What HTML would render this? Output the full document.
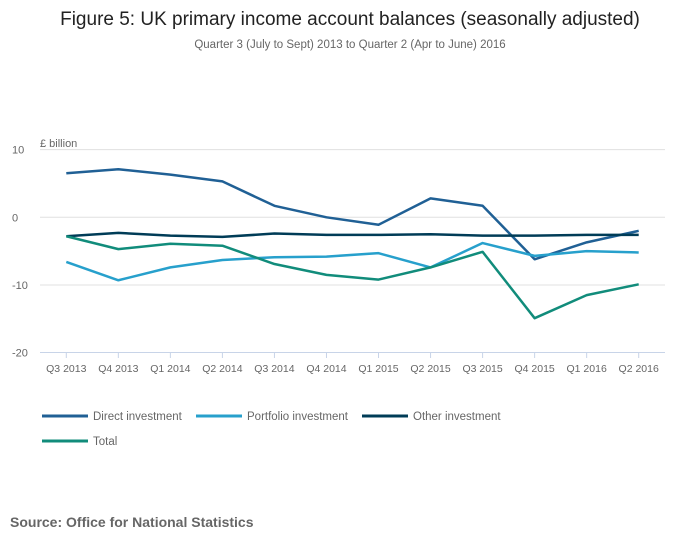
<!DOCTYPE html>
<html><head><meta charset="utf-8"><style>
body{margin:0;background:#fff;width:700px;height:549px;overflow:hidden;font-family:"Liberation Sans",sans-serif}
svg text{font-family:"Liberation Sans",sans-serif}
</style></head><body>
<svg width="700" height="549">
<text x="350" y="25" text-anchor="middle" font-size="19" fill="#222">Figure 5: UK primary income account balances (seasonally adjusted)</text>
<text x="350" y="48" text-anchor="middle" font-size="11.5" fill="#666">Quarter 3 (July to Sept) 2013 to Quarter 2 (Apr to June) 2016</text>
<text x="40" y="147" font-size="11" fill="#666">£ billion</text>
<g id="grid"></g><g id="xaxis"></g><g id="series"></g><g id="legend"></g>
<text x="10" y="527" font-size="14" font-weight="bold" fill="#666">Source: Office for National Statistics</text>
</svg>
<script>
const categories=["Q3 2013","Q4 2013","Q1 2014","Q2 2014","Q3 2014","Q4 2014","Q1 2015","Q2 2015","Q3 2015","Q4 2015","Q1 2016","Q2 2016"];
const yTicks=[10,0,-10,-20];
const direct=[6.5,7.1,6.3,5.3,1.7,0,-1.1,2.8,1.7,-6.2,-3.7,-2.0];
const portfolio=[-6.6,-9.3,-7.4,-6.3,-5.9,-5.8,-5.3,-7.4,-3.8,-5.7,-5.0,-5.2];
const other=[-2.8,-2.3,-2.7,-2.9,-2.4,-2.6,-2.6,-2.5,-2.7,-2.7,-2.6,-2.6];
const total=[-2.8,-4.7,-3.9,-4.2,-6.9,-8.5,-9.2,-7.4,-5.1,-14.9,-11.5,-9.9];
const seriesNames=["Direct investment","Portfolio investment","Other investment","Total"];
const NS="http://www.w3.org/2000/svg";
const x=i=>66.3+i*(638.7-66.3)/11;
const y=v=>217.3-v*6.77;
function mk(t,a,p){const e=document.createElementNS(NS,t);for(const k in a)e.setAttribute(k,a[k]);p.appendChild(e);return e;}
const grid=document.getElementById('grid');
yTicks.forEach(v=>{
 if(v>-20){const l=mk('line',{x1:40,x2:665,y1:y(v),y2:y(v),stroke:'#e0e0e0','stroke-width':1},grid);
 
 }
 const t=mk('text',{x:12,y:y(v)+4,'font-size':11,fill:'#666'},grid);t.textContent=v;
 
 
});
const xa=document.getElementById('xaxis');
const ax=mk('line',{x1:40,x2:665,y1:352.5,y2:352.5,stroke:'#c8d4e8','stroke-width':1},xa);


categories.forEach((c,i)=>{
 const tk=mk('line',{x1:x(i),x2:x(i),y1:352,y2:358,stroke:'#c8d4e8'},xa);
 
 
 const t=mk('text',{x:x(i),y:372,'text-anchor':'middle','font-size':10.5,fill:'#666'},xa);t.textContent=c;
 
 
});
const data=[direct,portfolio,other,total];
const colors=["#206095","#27a0cc","#003c57","#118c7b"];
const names=["direct-investment-line","portfolio-investment-line","other-investment-line","total-line"];
const sg=document.getElementById('series');
data.forEach((d,k)=>{
 const p=mk('polyline',{points:d.map((v,i)=>x(i)+','+y(v)).join(' '),fill:'none',stroke:colors[k],'stroke-width':2.5,'stroke-linejoin':'round'},sg);
 
 
});
const lg=document.getElementById('legend');
const lpos=[[42,416],[196,416],[362,416],[42,441]];
seriesNames.forEach((n,k)=>{
 const g=mk('g',{},lg);
 
 
 mk('line',{x1:lpos[k][0],x2:lpos[k][0]+46,y1:lpos[k][1],y2:lpos[k][1],stroke:colors[k],'stroke-width':3},g);
 const t=mk('text',{x:lpos[k][0]+51,y:lpos[k][1]+4,'font-size':11.5,fill:'#666'},g);t.textContent=n;
});
</script>
</body></html>
